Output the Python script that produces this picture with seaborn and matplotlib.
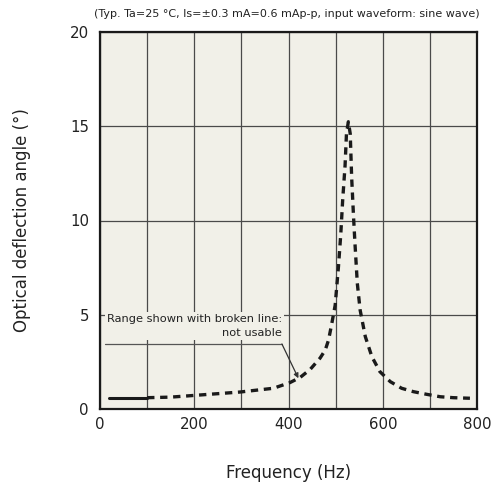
import matplotlib
matplotlib.use("Agg")
import matplotlib.pyplot as plt
import pandas as pd
import seaborn as sns

# usable range (solid)
SOLID_FREQ = [20, 100]
SOLID_ANGLE = [0.6, 0.6]

# range shown with broken line (not usable)
DASH_FREQ = [100, 150, 205, 297, 368, 403, 425, 446, 467, 478, 485, 492, 499,
             506, 511, 515, 520, 523, 527, 531, 534, 538, 541, 546, 552, 563,
             577, 594, 616, 640, 665, 693, 722, 750, 785]
DASH_ANGLE = [0.6, 0.63, 0.73, 0.9, 1.1, 1.4, 1.68, 2.1, 2.7, 3.13, 3.66, 4.55,
              5.5, 7.55, 9.3, 11.1, 12.9, 14.6, 15.24, 14.6, 12.3, 10.2, 8.8,
              6.67, 5.25, 3.84, 2.77, 1.98, 1.45, 1.1, 0.92, 0.78, 0.65, 0.6,
              0.57]

X_TICKS = [0, 200, 400, 600, 800]
Y_TICKS = [0, 5, 10, 15, 20]

BG = "#f1f0e8"
GRID = "#4a4a4a"


def main():
    sns.set_style("ticks")
    plt.rcParams["font.family"] = ["DejaVu Sans"]

    solid = pd.DataFrame({"Frequency (Hz)": SOLID_FREQ, "angle": SOLID_ANGLE})
    dashed = pd.DataFrame({"Frequency (Hz)": DASH_FREQ, "angle": DASH_ANGLE})

    fig = plt.figure(figsize=(4.91, 4.82), dpi=100)
    ax = fig.add_axes([100 / 491, 1 - 409 / 482, 377 / 491, 377 / 482])
    ax.set_facecolor(BG)

    sns.lineplot(data=solid, x="Frequency (Hz)", y="angle", color="#1a1a1a",
                 linewidth=2.2, ax=ax, zorder=4)
    sns.lineplot(data=dashed, x="Frequency (Hz)", y="angle", color="#1a1a1a",
                 linewidth=2.4, linestyle=(0, (2.2, 1.7)), ax=ax, zorder=4)

    ax.set_xlim(0, 800)
    ax.set_ylim(0, 20)
    ax.set_xticks(X_TICKS)
    ax.set_yticks(Y_TICKS)
    ax.set_xticks(range(100, 800, 100), minor=True)
    ax.grid(which="both", color=GRID, linewidth=0.9)
    ax.set_axisbelow(True)
    ax.tick_params(which="both", length=0, labelsize=10.8, colors="#222222")
    ax.tick_params(axis="x", pad=6)
    ax.tick_params(axis="y", pad=8)

    for sp in ax.spines.values():
        sp.set_linewidth(1.6)
        sp.set_color("#1a1a1a")

    ax.set_xlabel("Frequency (Hz)", fontsize=12, labelpad=23, color="#222222")
    ax.set_ylabel("Optical deflection angle (°)", fontsize=12, labelpad=28,
                  color="#222222")

    ax.text(1.008, 1.048,
            "(Typ. Ta=25 °C, Is=±0.3 mA=0.6 mAp-p, input waveform: sine wave)",
            transform=ax.transAxes, ha="right", va="center", fontsize=8.0,
            color="#222222")

    # annotation for broken line range
    ax.text(386, 4.4, "Range shown with broken line:\nnot usable",
            ha="right", va="center", multialignment="right", fontsize=8.2,
            linespacing=1.55, color="#222222", zorder=3,
            bbox=dict(facecolor=BG, edgecolor="none", pad=1.5))
    ax.plot([10, 386], [3.45, 3.45], color="#555555", linewidth=0.9, zorder=3)
    ax.annotate("", xy=(421, 1.63), xytext=(386, 3.45),
                arrowprops=dict(arrowstyle="-|>", color="#333333", lw=0.9,
                                mutation_scale=7, shrinkA=0, shrinkB=0),
                zorder=3)

    fig.savefig("out.png", dpi=100)


if __name__ == "__main__":
    main()
